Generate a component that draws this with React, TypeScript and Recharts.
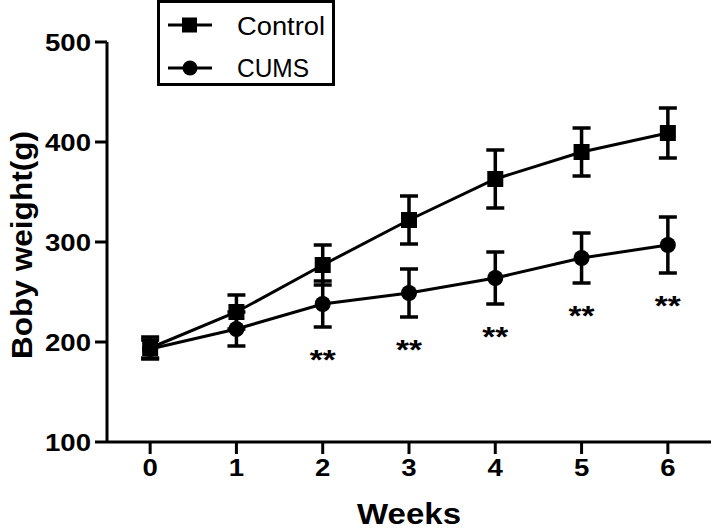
import React from 'react';
import { LineChart, Line, XAxis, YAxis, ErrorBar, LabelList } from 'recharts';

const weeks = [0, 1, 2, 3, 4, 5, 6];
const controlMean = [194, 230, 277, 322, 363, 390, 409];
const controlSem = [11, 17, 20, 24, 29, 24, 25];
const cumsMean = [193, 213, 238, 249, 264, 284, 297];
const cumsSem = [9, 17, 23, 24, 26, 25, 28];
const significance = ['', '', '**', '**', '**', '**', '**'];
const yTicks = [100, 200, 300, 400, 500];

const data = weeks.map((w, i) => ({
  week: w,
  control: controlMean[i],
  controlErr: controlSem[i],
  cums: cumsMean[i],
  cumsErr: cumsSem[i],
  sigBase: cumsMean[i] - cumsSem[i],
  sig: significance[i],
}));

const FONT = '"Liberation Sans", Arial, sans-serif';
// the picture is a little wider than tall, text looks stretched sideways
const SX = 1.15;

const YTick = (props: any) => {
  const { x, y, payload } = props;
  const s = String(payload.value);
  return (
    <text x={x} y={y + 8.5} textAnchor="end" fontFamily={FONT} fontWeight="bold" fontSize={24}
      textLength={s.length * 24 * 0.556 * SX} lengthAdjust="spacingAndGlyphs" fill="#000">
      {s}
    </text>
  );
};

const XTick = (props: any) => {
  const { x, y, payload } = props;
  const s = String(payload.value);
  return (
    <text x={x} y={y + 20} textAnchor="middle" fontFamily={FONT} fontWeight="bold" fontSize={24}
      textLength={s.length * 24 * 0.556 * SX} lengthAdjust="spacingAndGlyphs" fill="#000">
      {s}
    </text>
  );
};

const WeeksLabel = (props: any) => {
  const vb = props.viewBox || {};
  return (
    <text x={vb.x + vb.width / 2} y={vb.y + vb.height - 5} textAnchor="middle" fontFamily={FONT}
      fontWeight="bold" fontSize={29} textLength={104} lengthAdjust="spacingAndGlyphs" fill="#000">
      Weeks
    </text>
  );
};

const WeightLabel = (props: any) => {
  const vb = props.viewBox || {};
  const cx = 32;
  const cy = vb.y + vb.height / 2 + 3;
  return (
    <text x={cx} y={cy} transform={`rotate(-90 ${cx} ${cy})`} textAnchor="middle" fontFamily={FONT}
      fontWeight="bold" fontSize={30} textLength={228} lengthAdjust="spacingAndGlyphs" fill="#000">
      Boby weight(g)
    </text>
  );
};

const SquareDot = (p: any) => (
  <rect key={`sq-${p.index}`} x={p.cx - 8} y={p.cy - 8} width={16} height={16} fill="#000" />
);
const CircleDot = (p: any) => <circle key={`ci-${p.index}`} cx={p.cx} cy={p.cy} r={8} fill="#000" />;

const StarLabel = (props: any) => {
  const x = props.x ?? props.viewBox?.x;
  const y = props.y ?? props.viewBox?.y;
  if (!props.value) return null;
  return (
    <text x={x} y={y + 42} textAnchor="middle" fontFamily={FONT} fontSize={28} fontWeight="bold"
      textLength={26} lengthAdjust="spacingAndGlyphs" fill="#000">
      {props.value}
    </text>
  );
};

const LegendBox = () => (
  <svg width={180} height={88} style={{ position: 'absolute', left: 157, top: 0, display: 'block' }}>
    <rect x={1.5} y={1.5} width={175} height={83} fill="#fff" stroke="#000" strokeWidth={3} />
    <line x1={11} y1={25} x2={55} y2={25} stroke="#000" strokeWidth={3} />
    <rect x={25} y={17.5} width={15} height={15} fill="#000" />
    <text x={80} y={35} fontFamily={FONT} fontSize={25} textLength={88} lengthAdjust="spacingAndGlyphs">Control</text>
    <line x1={11} y1={68} x2={55} y2={68} stroke="#000" strokeWidth={3} />
    <circle cx={33} cy={68} r={7.5} fill="#000" />
    <text x={80} y={77} fontFamily={FONT} fontSize={25} textLength={72} lengthAdjust="spacingAndGlyphs">CUMS</text>
  </svg>
);

export default function App() {
  return (
    <div style={{ position: 'absolute', left: 0, top: 0, width: 712, height: 529, background: '#fff' }}>
      <LineChart width={712} height={529} data={data} margin={{ top: 42, right: 1, left: 0, bottom: 0 }}>
        <XAxis
          type="number"
          dataKey="week"
          domain={[-0.5, 6.5]}
          ticks={weeks}
          height={87}
          tickSize={12}
          tickMargin={2}
          axisLine={{ stroke: '#000', strokeWidth: 3 }}
          tickLine={{ stroke: '#000', strokeWidth: 3 }}
          tick={<XTick />}
          label={<WeeksLabel />}
        />
        <YAxis
          type="number"
          domain={[100, 500]}
          ticks={yTicks}
          width={107}
          tickSize={12}
          tickMargin={4}
          axisLine={{ stroke: '#000', strokeWidth: 3 }}
          tickLine={{ stroke: '#000', strokeWidth: 3 }}
          tick={<YTick />}
          label={<WeightLabel />}
        />
        <Line dataKey="control" stroke="#000" strokeWidth={3} dot={<SquareDot />} activeDot={false}
          isAnimationActive={false}>
          <ErrorBar dataKey="controlErr" direction="y" width={9} stroke="#000" strokeWidth={3.5} />
        </Line>
        <Line dataKey="cums" stroke="#000" strokeWidth={3} dot={<CircleDot />} activeDot={false}
          isAnimationActive={false}>
          <ErrorBar dataKey="cumsErr" direction="y" width={9} stroke="#000" strokeWidth={3.5} />
        </Line>
        <Line dataKey="sigBase" stroke="none" dot={false} activeDot={false} legendType="none"
          isAnimationActive={false}>
          <LabelList dataKey="sig" content={<StarLabel />} />
        </Line>
      </LineChart>
      <LegendBox />
    </div>
  );
}
